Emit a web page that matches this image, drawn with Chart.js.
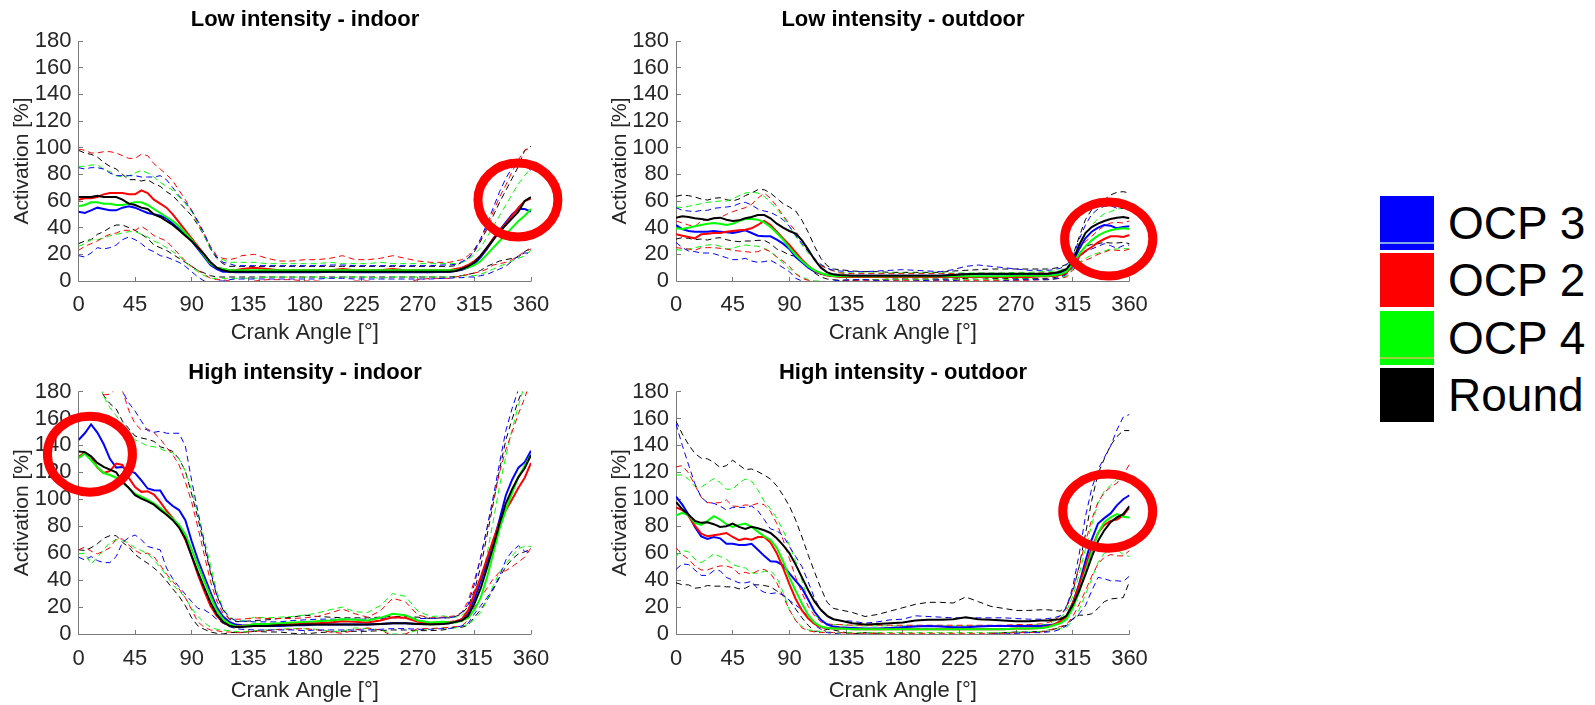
<!DOCTYPE html>
<html>
<head>
<meta charset="utf-8">
<script src="https://cdn.jsdelivr.net/npm/chart.js@4.4.1/dist/chart.umd.min.js"></script>
<style>
  html, body { margin: 0; padding: 0; background: #ffffff; width: 1595px; height: 705px; overflow: hidden; }
  canvas.panel { position: absolute; }
  #legend { position: absolute; left: 1380px; top: 196px; font-family: 'Liberation Sans', Arial, sans-serif; }
  #legend .item { position: absolute; left: 0; width: 215px; height: 54px; }
  #legend .swatch { position: absolute; left: 0; top: 0; width: 54px; height: 54px; }
  #legend .stripe { position: absolute; left: 0; width: 54px; height: 2px; }
  #legend .label { position: absolute; left: 68px; top: 0; height: 54px; line-height: 54px; font-size: 46px; color: #000; white-space: nowrap; }
</style>
</head>
<body>
<div id="legend"></div>
<script>
// Crank angle grid (degrees) shared by every curve
const ANGLES = [0,5,10,15,20,25,30,35,40,45,50,55,60,65,70,75,80,85,90,95,100,105,110,115,120,125,130,
  140,150,160,170,180,190,200,210,220,230,240,250,260,270,280,290,
  295,300,305,310,315,320,325,330,335,340,345,350,355,360];

const X_TICKS = [0,45,90,135,180,225,270,315,360];
const Y_TICKS = [0,20,40,60,80,100,120,140,160,180];

const SERIES_NAMES = ['OCP 3', 'OCP 2', 'OCP 4', 'Round'];
const SERIES_COLORS = ['#0000ff', '#ff0000', '#00ff00', '#000000'];
const PANEL_TITLES = ['Low intensity - indoor', 'Low intensity - outdoor', 'High intensity - indoor', 'High intensity - outdoor'];

// ---- Low intensity, indoor: mean activation and standard deviation ----
const LOW_IN_OCP3 = [52,51,53,55,54,53,53,55,56,55,53,51,50,49,47,43,39,35,30,24,18,12,9,7,7,6.5,6.5,
  6.5,6.5,6.5,6.5,6.5,6.5,7,7,6.5,6.5,6.5,6.5,6.5,6.5,6.5,7,
  7,7.5,8.5,10,13,18,24,31,38,44,50,54,54,52];
const LOW_IN_OCP3_SD = [33,33,32,30,30,28,26,24,23,24,25,27,28,30,29,27,25,24,23,21,18,13,9,7,6,5,5,
  5,5,5,5,5,5,5,5,5,5,5,5,5,5,5,5,
  5,5,6,7,10,14,19,24,29,33,35,35,33,31];
const LOW_IN_OCP2 = [61,62,62,63,65,66,66,66,65,65,68,66,61,58,55,50,44,38,32,26,20,14,10,9,8,8,9,
  10,9,8,8,8,8,8,9,8,8,8,9,8,8,8,8,
  8,9,10,12,15,19,25,32,38,43,49,55,60,62];
const LOW_IN_OCP2_SD = [38,36,34,33,32,31,30,28,27,27,27,28,27,26,25,25,24,23,21,18,15,12,9,8,8,9,10,
  10,8,7,7,8,8,9,10,8,8,9,10,9,7,6,6,
  6,6,6,7,9,12,16,20,25,29,33,36,38,38];
const LOW_IN_OCP4 = [56,57,59,59,58,58,57,57,58,59,59,57,54,51,48,45,41,36,31,25,19,13,10,9,8,8,8,
  8,8,8,8,8,8,8,8,8,8,8,8,8,8,8,8,
  8,8,9,10,12,15,20,25,30,35,40,45,49,54];
const LOW_IN_OCP4_SD = [30,29,28,28,26,24,22,21,21,22,24,24,24,23,23,23,22,22,21,18,15,11,8,7,6,6,6,
  6,5,5,5,5,5,6,5,5,5,6,5,5,5,5,5,
  5,5,5,6,8,10,13,16,19,22,25,28,30,31];
const LOW_IN_ROUND = [63,63,63,64,63,63,63,61,58,57,55,54,50,48,45,42,38,34,30,25,20,14,10,8,7,7,7,
  7,7,7,7,7,7,7,7,7,7,7,7,7,7,7,7,
  7,7.5,9,11,14,19,25,31,37,42,47,52,60,63];
const LOW_IN_ROUND_SD = [35,33,32,29,26,23,21,19,18,19,20,22,23,23,22,22,21,20,19,17,14,10,7,5,4,4,4,
  4,4,4,4,4,4,4,4,4,4,4,4,4,4,4,4,
  4,4,5,6,8,11,14,18,22,26,30,34,38,38];

// ---- Low intensity, outdoor ----
const LOW_OUT_OCP3 = [42,39,37.5,37,37,37,37.5,37,36.5,36,37,38,36,34,33.5,33.5,31,28,24,18,14,10,7,5.5,4.5,4,4,
  4,4,4,4,4,4,4,4,4.5,5,5,5,5,5,4.5,4.5,
  4.5,5,6,8.5,14,24,32,37,40,42,41.5,39.5,40.5,41];
const LOW_OUT_OCP3_SD = [13,14,15,15,16,16,17,18,19,20,21,21,21,20,19,18,18,18,17,16,14,12,10,7,5,4,3.5,
  3,3,3.5,4,4.5,4,3.5,3,4,6,7,6,5,4,3.5,3.5,
  3.5,3.5,3.5,3.5,4,7,10,13,14,14,15,15,14,14];
const LOW_OUT_OCP2 = [35,34,33,32,35,35.5,36,36,37,37.5,38,38.5,39.5,42,45,42,37,32,27,21.5,16,11.5,7.75,5.5,4.2,3.5,3,
  3,3,3,3,3,3,3,3,3,3,3,3,3,3,3,3.5,
  3.5,4,4.5,6,12,18.5,22.5,25.5,29,31.5,33.5,33.5,33,34.5];
const LOW_OUT_OCP2_SD = [10,9.5,9,9,10,10.5,11,11.5,13,14.5,15.5,16.5,18,20,21,20,19,17,16,16,14,11,8,6,5,4,3,
  2.5,2.5,2.5,2.5,2.5,2.5,2.5,2.5,2.5,2.5,2.5,2.5,2.5,2.5,2.5,2.5,
  2.5,2.5,2.5,3,4,5,7,8,9,10,10,10.5,10.5,10.5];
const LOW_OUT_OCP4 = [39.5,39,40,41,42,43,43.5,43,42,43,45,46.5,46.5,46,44,40.5,36,31,25,19.5,15,11,8,6,4.5,3.8,3.5,
  3.5,3.5,3.5,3.5,3.5,3.5,3.5,3.5,3.5,3.5,3.5,3.5,3.5,4,4,4,
  4,4.5,5,7,13,20,26,30.5,34,36.5,38,39,39.5,39];
const LOW_OUT_OCP4_SD = [16,16,16,16,16,16,16,17,18,18.5,19,19.5,20,20,19.5,18.5,18,17.5,16,14,12,10,8,6,5,4,3,
  2.5,2.5,2.5,2.5,2.5,2.5,2.5,2.5,2.5,2.5,2.5,2.5,2.5,2.5,2.5,3,
  3,3,3,3,4,6,9,11,13,14,14,15,15,15];
const LOW_OUT_ROUND = [47.5,48.5,48,47,46.5,45.7,47,47.5,46,45,45.5,47,48,49.5,49.5,47,43,40,37.5,35.5,30.5,23.5,16,10,6.5,5,4.5,
  4,4,4,4,4,4,4,4,4.5,5,5.5,5.5,5.5,5.5,5.5,5.5,
  5.5,6,7,9,15,27,36,40.5,43,45,46.5,47.5,48,47];
const LOW_OUT_ROUND_SD = [16,16,16,16,15,15,15,15,15,15,16,17,18,19,19,19,19,18,18,17,15,13,10,7,5,4,4,
  3.5,3,3,2.5,2.5,2.5,2.5,2.5,3,3,3,3.5,3.5,3.5,3.5,3.5,
  3.5,3.5,3.5,3.5,4,6,10,13,15,16,18,19,19,19];

// ---- High intensity, indoor ----
const HIGH_IN_OCP3 = [144,149,155.5,149.5,141,130,123.5,124,121.5,119.5,114,108,106.7,106.5,99,95,92,84.5,69,55,43,31,20,13,9,7,6.5,
  6,6,6,6.5,6.5,7,7,7,7,7,7.5,8,8,7.5,7.5,8,
  8,9,11,15,26,39,53,68,85,103,114.5,123.5,127.5,136];
const HIGH_IN_OCP3_SD = [87,94,98,95,88,77,66,56,50,46,44,43,43,44,50,54,57,55,45,36,25,16,9,5,3.5,3,3,
  3,3,3,3.5,4,4,4,4,4,4,4,4,4,4,4,4,
  4,4,5,7,11,18,26,34,42,48,53,58,66,76];
const HIGH_IN_OCP2 = [131.5,134.5,131.5,123.5,119.5,121,126.5,125.5,116,109,105.5,106,103.5,98,91.5,86,79.5,70,58,44,32,21,13.5,8.5,6.5,6,6,
  7,7,7.5,7.5,8,8,8.5,9.5,9,8.5,10,12.5,12,9,8,8.5,
  9,9.5,11,17.5,30,42,56,70,83,92,100,108.5,116,127];
const HIGH_IN_OCP2_SD = [69,70,70,64,58,57,56,55,50,47,46,46,46,47,47,47,46,43,40,35,27,18,11,7,5,5,5,
  5,4.5,4,4,4,5,7,9,6,4,7,14,12,5,4,4,
  4,4,5,7,10,15,22,29,37,45,50,55,59,63];
const HIGH_IN_OCP4 = [130.5,134,129,124,119.5,118,116,112.5,108.5,104,102,99.5,97,93.5,89.5,85.5,81,74,63,51,39.5,28,17.5,11,7.5,5.8,5.5,
  7.5,7.5,8,8.5,9,9.5,10,11,10.5,10,12,15,14,10,8.5,9,
  8.5,8.5,10,12,18,27,42,60,78,92,105,116.5,125,133];
const HIGH_IN_OCP4_SD = [71,74,77,67,57,50,46,43,41,40,40,40,42,44,46,49,49,47,44,38,31,23,14,8,5,4,4,
  5,4.5,4.5,4.5,5,6,8,9,6,6,9,15,14,7,4.5,4.5,
  4,4,4,5,7,11,17,24,32,40,47,53,60,68];
const HIGH_IN_ROUND = [135.5,135,132,127,124,122,120,113,108.5,103,100.5,98.5,96,92,88.5,84.5,79,71,58,46,34.5,23.5,14.5,9,6,5.2,5.2,
  6,6,6.5,6.5,7,7,7,7,7,7,7.5,8,8,7.5,7,7.5,
  8,9,10,13.5,22.5,34,49,65,82,97,107.5,116.5,123,133];
const HIGH_IN_ROUND_SD = [73,73,68,60,53,49,47,45,44,44,45,46,47,47,49,51,51,50,46,40,31,22,14,9,5,4,4,
  4,4.5,5,6,7,6,5.5,5,5,5,5,5,5,5,4.5,4.5,
  4,4,5,7,10,16,24,32,40,47,52,57,62,70];

// ---- High intensity, outdoor ----
const HIGH_OUT_OCP3 = [102,96,88.5,79.5,72.5,70.5,72,71,67,67,66,66,67,62.5,58,54,53.6,51,45,39.5,34,25.5,16.5,10.5,7,5.5,5,
  4.5,4,4,4.5,5,5.5,6,5.5,5,5,5.5,6,6,6,6,6,
  6.5,7,8.5,13,23,37,54,70,82,86,89.5,95.5,100,103];
const HIGH_OUT_OCP3_SD = [54,44,37,32,29,27,25,24,25,27,28,28,28,29,27,24,23,22,20,18,16,13,10,7,6,5,5,
  5,4,5,6,6,8,7,7,7,7,6.5,6,6,5.5,5,5,
  5,5,5,7,12,22,33,38,40,45,50,56,61,60];
const HIGH_OUT_OCP2 = [94,92,87.5,80.5,74.5,72.5,73.3,74,75,72,69.6,70.8,70,72,72,68,60,49,37,26,17.5,11.5,7.5,5,4.5,4,4,
  3.5,3.5,3.5,3.5,3.5,3.5,3.5,3.5,3.5,3.5,3.5,3.5,3.5,4,4,4.5,
  5.5,7,9.5,13,23,36,50,64,75,81,84,85,88,94];
const HIGH_OUT_OCP2_SD = [30,33,32,30,27,25,24,23.5,24.5,23,25,25,25.5,25,24,23,22,21,19,16,13,9,6,4,3,3,3,
  3,3,3,3,3,3,3,3,3,3,3,3,3,3,3,3,
  3,3,4,6,10,14,18,21,23,24,25,27,30,32];
const HIGH_OUT_OCP4 = [88,90,88,82.5,81,84,87.5,85,81.5,79.5,81,82,79.5,76,72.5,70,64,54,42,32,22.5,14,8.5,5.5,4.5,4,4,
  3.5,3.5,3.5,3.5,3.5,3.5,3.5,3.5,3.5,3.5,3.5,3.5,3.5,4,4,4.5,
  5,6.5,8,11,19,31,46,61,75,83,86.5,89,87,86.5];
const HIGH_OUT_OCP4_SD = [30,28,27,27,28,28,28,27.5,26,28,31,33,34,31,26,23,22,23,24,22,17,11,6,4,3,3,3,
  2.5,2.5,2.5,2.5,2.5,2.5,2.5,2.5,2.5,2.5,2.5,2.5,2.5,2.5,2.5,2.5,
  2,3,4,6,9,13,17,20,22,23,24,26,28,29];
const HIGH_OUT_ROUND = [98,92.5,88.5,84,82.5,83,81.5,79.5,80,82,79.5,78,79.5,78.5,77,75,71,66,60,51.5,42,32.5,24,18,13.5,11,10,
  8,7,7.5,8,8.5,10,10.5,10.5,11,12.5,11,10.5,10,9.5,9.5,10,
  10,10.5,11,13.5,21.5,32,44,57,69,77,83,86.5,89,95];
const HIGH_OUT_ROUND_SD = [60,56,52,50,48,47,46,44,45,47,46,44,43,42,41,40,39,37,35,33,30,26,22,16,10,8,8,
  8,6,7,9,11,12,13,13,12,15,13,10,9,8,8,8,
  8,7,6,7,10,18,30,42,50,53,57,60,62,56];

// Highlight rings: centre (angle, activation) and half-axes in data units
const RING_ANGLE = [349.6, 343.5, 9.1, 342.7];
const RING_VALUE = [60.75, 31.5, 133.5, 91.2];
const RING_RX_DEG = [31.8, 35, 33.8, 35.7];
const RING_RY_VAL = [27.75, 27.75, 28.2, 27.5];

const PANEL_MEANS = [
  [LOW_IN_OCP3, LOW_IN_OCP2, LOW_IN_OCP4, LOW_IN_ROUND],
  [LOW_OUT_OCP3, LOW_OUT_OCP2, LOW_OUT_OCP4, LOW_OUT_ROUND],
  [HIGH_IN_OCP3, HIGH_IN_OCP2, HIGH_IN_OCP4, HIGH_IN_ROUND],
  [HIGH_OUT_OCP3, HIGH_OUT_OCP2, HIGH_OUT_OCP4, HIGH_OUT_ROUND]
];
const PANEL_SDS = [
  [LOW_IN_OCP3_SD, LOW_IN_OCP2_SD, LOW_IN_OCP4_SD, LOW_IN_ROUND_SD],
  [LOW_OUT_OCP3_SD, LOW_OUT_OCP2_SD, LOW_OUT_OCP4_SD, LOW_OUT_ROUND_SD],
  [HIGH_IN_OCP3_SD, HIGH_IN_OCP2_SD, HIGH_IN_OCP4_SD, HIGH_IN_ROUND_SD],
  [HIGH_OUT_OCP3_SD, HIGH_OUT_OCP2_SD, HIGH_OUT_OCP4_SD, HIGH_OUT_ROUND_SD]
];

// Canvas placement for the 2x2 grid of panels
const BOXES = [
  { x: 0,   y: 0,   w: 610, h: 347, yAxisW: 78.5, padRight: 79,   titleTop: 6.3, titleBottom: 8.3, xAxisH: 66, tickPad: 11 },
  { x: 598, y: 0,   w: 610, h: 347, yAxisW: 78,   padRight: 78.5, titleTop: 6.3, titleBottom: 8.3, xAxisH: 66, tickPad: 11 },
  { x: 0,   y: 350, w: 610, h: 355, yAxisW: 78.5, padRight: 79,   titleTop: 10.2, titleBottom: 4.9, xAxisH: 71, tickPad: 12 },
  { x: 598, y: 350, w: 610, h: 355, yAxisW: 78,   padRight: 78.5, titleTop: 10.2, titleBottom: 4.9, xAxisH: 71, tickPad: 12 }
];

const TEXT_FONT = "'Liberation Sans', Arial, sans-serif";
const TEXT_COLOR = '#262626';
const AXIS_COLOR = '#7a7a7a';

// Axis lines with inward ticks, plus the highlight ring drawn on top
const axesAndRing = {
  id: 'axesAndRing',
  beforeDatasetsDraw(chart) {
    const { ctx, chartArea: a, scales: { x, y } } = chart;
    const L = Math.floor(a.left) + 0.5;
    const B = Math.floor(a.bottom) + 0.5;
    ctx.save();
    ctx.strokeStyle = AXIS_COLOR;
    ctx.lineWidth = 1;
    ctx.beginPath();
    ctx.moveTo(L, a.top);
    ctx.lineTo(L, B);
    ctx.lineTo(a.right, B);
    X_TICKS.forEach(v => {
      const px = Math.floor(x.getPixelForValue(v)) + 0.5;
      ctx.moveTo(px, B);
      ctx.lineTo(px, B - 4.5);
    });
    Y_TICKS.forEach(v => {
      const py = Math.floor(y.getPixelForValue(v)) + 0.5;
      ctx.moveTo(L, py);
      ctx.lineTo(L + 4.5, py);
    });
    ctx.stroke();
    ctx.restore();
  },
  afterDraw(chart, args, opts) {
    const { ctx, scales: { x, y } } = chart;
    const cx = x.getPixelForValue(opts.angle);
    const cy = y.getPixelForValue(opts.value);
    const rx = x.getPixelForValue(opts.angle + opts.rx) - cx;
    const ry = cy - y.getPixelForValue(opts.value + opts.ry);
    ctx.save();
    ctx.strokeStyle = '#ff0000';
    ctx.lineWidth = 9;
    ctx.beginPath();
    ctx.ellipse(cx, cy, rx, ry, 0, 0, Math.PI * 2);
    ctx.stroke();
    ctx.restore();
  }
};

function points(values) {
  return ANGLES.map((a, k) => ({ x: a, y: values[k] }));
}

function buildPanel(p) {
  const box = BOXES[p];
  const canvas = document.createElement('canvas');
  canvas.className = 'panel';
  canvas.width = box.w;
  canvas.height = box.h;
  canvas.style.left = box.x + 'px';
  canvas.style.top = box.y + 'px';
  canvas.style.width = box.w + 'px';
  canvas.style.height = box.h + 'px';
  document.body.appendChild(canvas);

  const datasets = [];
  PANEL_MEANS[p].forEach((mean, i) => {
    const sd = PANEL_SDS[p][i];
    const upper = mean.map((v, k) => v + sd[k]);
    const lower = mean.map((v, k) => v - sd[k]);
    [upper, lower].forEach(band => datasets.push({
      label: SERIES_NAMES[i] + ' SD',
      data: points(band),
      borderColor: SERIES_COLORS[i],
      borderWidth: 1,
      borderDash: [6, 4],
      pointRadius: 0,
      fill: false,
      order: 10 + i
    }));
  });
  PANEL_MEANS[p].forEach((mean, i) => datasets.push({
    label: SERIES_NAMES[i],
    data: points(mean),
    borderColor: SERIES_COLORS[i],
    borderWidth: 2,
    pointRadius: 0,
    fill: false,
    order: 4 - i
  }));

  new Chart(canvas, {
    type: 'line',
    data: { datasets },
    options: {
      responsive: false,
      animation: false,
      devicePixelRatio: 1,
      events: [],
      layout: { padding: 0 },
      elements: { line: { tension: 0 }, point: { radius: 0 } },
      plugins: {
        legend: { display: false },
        tooltip: { enabled: false },
        title: {
          display: true,
          text: PANEL_TITLES[p],
          color: '#000000',
          font: { family: TEXT_FONT, size: 22, weight: 'bold' },
          padding: { top: box.titleTop, bottom: box.titleBottom }
        },
        axesAndRing: { angle: RING_ANGLE[p], value: RING_VALUE[p], rx: RING_RX_DEG[p], ry: RING_RY_VAL[p] }
      },
      scales: {
        x: {
          type: 'linear',
          min: 0, max: 360,
          afterBuildTicks: s => { s.ticks = X_TICKS.map(v => ({ value: v })); },
          grid: { display: false, drawTicks: false },
          border: { display: false },
          ticks: { color: TEXT_COLOR, font: { family: TEXT_FONT, size: 22 }, padding: box.tickPad, maxRotation: 0, autoSkip: false },
          title: { display: true, text: 'Crank Angle [°]', color: TEXT_COLOR, font: { family: TEXT_FONT, size: 22 }, padding: { top: 0, bottom: 1 } },
          afterFit: s => { s.height = box.xAxisH; }
        },
        y: {
          type: 'linear',
          min: 0, max: 180,
          afterBuildTicks: s => { s.ticks = Y_TICKS.map(v => ({ value: v })); },
          grid: { display: false, drawTicks: false },
          border: { display: false },
          ticks: { color: TEXT_COLOR, font: { family: TEXT_FONT, size: 22 }, padding: 7, autoSkip: false },
          title: { display: true, text: 'Activation [%]', color: TEXT_COLOR, font: { family: TEXT_FONT, size: 21 }, padding: { top: 9.5, bottom: 0 } },
          afterFit: s => { s.width = box.yAxisW; }
        },
        // empty right-hand margin so the title centres over the plot
        margin: {
          type: 'linear',
          position: 'right',
          display: true,
          grid: { display: false, drawTicks: false },
          border: { display: false },
          ticks: { display: false },
          afterFit: s => { s.width = box.padRight; }
        }
      }
    },
    plugins: [axesAndRing]
  });
}

[0, 1, 2, 3].forEach(buildPanel);

// Shared legend with filled swatches
const STRIPE_COLORS = ['#7fa6e6', null, '#9fd040', null];
const legend = document.getElementById('legend');
SERIES_NAMES.forEach((name, i) => {
  const item = document.createElement('div');
  item.className = 'item';
  item.style.top = (i * 57.4) + 'px';
  const sw = document.createElement('div');
  sw.className = 'swatch';
  sw.style.background = SERIES_COLORS[i];
  item.appendChild(sw);
  if (STRIPE_COLORS[i]) {
    const st = document.createElement('div');
    st.className = 'stripe';
    st.style.top = '46px';
    st.style.background = STRIPE_COLORS[i];
    item.appendChild(st);
  }
  const lab = document.createElement('div');
  lab.className = 'label';
  lab.textContent = name;
  item.appendChild(lab);
  legend.appendChild(item);
});
</script>
</body>
</html>
